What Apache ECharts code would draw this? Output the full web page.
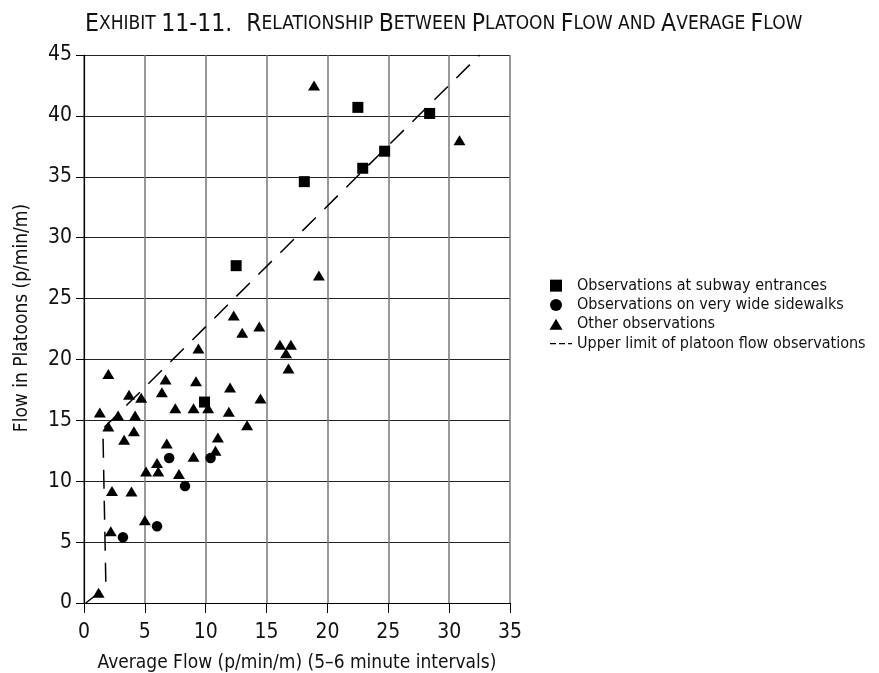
<!DOCTYPE html>
<html><head><meta charset="utf-8">
<script src="https://cdn.jsdelivr.net/npm/echarts@6/dist/echarts.min.js"></script>
<style>html,body{margin:0;padding:0;background:#fff}#c{width:879px;height:673px}</style>
</head><body><div id="c"></div>
<script>
var FONT = "'Liberation Sans Narrow', 'DejaVu Sans Condensed', 'Liberation Sans', sans-serif";
var seriesNames = ['Observations at subway entrances','Observations on very wide sidewalks','Other observations','Upper limit of platoon flow observations'];
var subway = [[9.9,16.5],[12.5,27.7],[18.1,34.6],[22.9,35.7],[24.7,37.1],[22.5,40.7],[28.4,40.2]];
var wide = [[7.0,11.9],[10.4,11.9],[8.3,9.6],[6.0,6.3],[3.2,5.4]];
var other = [[2.0,18.8],[6.7,18.35],[9.2,18.2],[12.0,17.7],[16.8,19.25],[3.7,17.1],[4.7,16.85],[6.4,17.3],[14.5,16.8],
  [1.3,15.65],[2.8,15.4],[4.2,15.4],[7.5,16.0],[9.0,16.0],[10.2,16.0],[11.9,15.7],[2.0,14.5],[3.3,13.4],[4.1,14.1],
  [13.4,14.6],[11.0,13.6],[6.8,13.1],[10.8,12.5],[6.0,11.5],[9.0,12.0],[5.1,10.8],[6.1,10.8],[7.8,10.6],[2.3,9.2],
  [3.9,9.15],[5.0,6.8],[2.2,5.9],[1.2,0.85],[18.9,42.5],[30.85,38.0],[19.3,26.9],[12.3,23.6],[13.0,22.2],[14.4,22.7],
  [9.4,20.9],[16.1,21.2],[17.0,21.2],[16.6,20.5]];
var upperLimit = [[0.15,0],[1.8,1.3],[1.55,14.3],[32.5,45]];
var xTicks = {min:0, max:35, interval:5};
var yTicks = {min:0, max:45, interval:5};

var chart = echarts.init(document.getElementById('c'), null, {renderer:'canvas'});
var big = {fontSize:24.5, fontFamily:FONT, color:'#111', fontWeight:'normal'};
var sm = {fontSize:19, fontFamily:FONT, color:'#111', fontWeight:'normal'};
var titleParts = [['b','E'],['s','XHIBIT '],['b','11-11.  R'],['s','ELATIONSHIP '],['b','B'],['s','ETWEEN '],['b','P'],['s','LATOON '],['b','F'],['s','LOW AND '],['b','A'],['s','VERAGE '],['b','F'],['s','LOW']];
var titleText = titleParts.map(function(p){return '{'+p[0]+'|'+p[1]+'}';}).join('');
var solid = {color:'#000', opacity:1};

chart.setOption({
  animation:false,
  title:{text:titleText, left:80, top:7, textStyle:{fontWeight:'normal', rich:{b:big,s:sm}}},
  grid:{left:84, right:369, top:55, bottom:70, show:false, containLabel:false, outerBoundsMode:'none'},
  legend:{
    orient:'vertical', left:542, top:271, itemWidth:25, itemHeight:12, itemGap:0,
    itemStyle:{opacity:1},
    textStyle:{fontFamily:FONT, fontSize:16, color:'#111', lineHeight:19.3},
    data:[
      {name:seriesNames[0], icon:'path://M0,0 M3,0h12v12h-12z M25,12'},
      {name:seriesNames[1], icon:'path://M0,0 M3,6a6,6 0 1,0 12,0a6,6 0 1,0 -12,0z M25,12'},
      {name:seriesNames[2], icon:'path://M0,0 M2.5,11.5L9,0.5L15.5,11.5z M25,12'},
      {name:seriesNames[3], icon:'path://M0,0 M3,5.5h6v1.2h-6z M12,5.5h6v1.2h-6z M21,5.5h4v1.2h-4z M25,12'}
    ]
  },
  xAxis:{type:'value', min:xTicks.min, max:xTicks.max, interval:xTicks.interval,
    name:'Average Flow (p/min/m) (5–6 minute intervals)', nameLocation:'middle', nameGap:51,
    nameTextStyle:{fontFamily:FONT, fontSize:19, color:'#111'},
    axisLine:{lineStyle:{color:'#000', width:1.2}},
    axisTick:{show:true, length:10, lineStyle:{color:'#000'}},
    axisLabel:{fontFamily:FONT, fontSize:21, color:'#111', margin:19},
    splitLine:{show:true, lineStyle:{color:'#777', width:1.5}}
  },
  yAxis:{type:'value', min:yTicks.min, max:yTicks.max, interval:yTicks.interval,
    name:'Flow in Platoons (p/min/m)', nameLocation:'middle', nameGap:52, nameRotate:90,
    nameTextStyle:{fontFamily:FONT, fontSize:19, color:'#111', padding:[0,0,0,22]},
    axisLine:{lineStyle:{color:'#000', width:1.2}},
    axisTick:{show:true, length:8, lineStyle:{color:'#000'}},
    axisLabel:{fontFamily:FONT, fontSize:21, color:'#111', margin:12},
    splitLine:{show:true, lineStyle:{color:'#222', width:1}}
  },
  series:[
    {name:seriesNames[0], type:'scatter', data:subway, symbol:'rect', symbolSize:11, itemStyle:solid, z:5},
    {name:seriesNames[1], type:'scatter', data:wide, symbol:'circle', symbolSize:10.5, itemStyle:solid, z:5},
    {name:seriesNames[2], type:'scatter', data:other, symbol:'triangle', symbolSize:[12,10], itemStyle:solid, z:5},
    {name:seriesNames[3], type:'line', data:upperLimit, symbol:'none', lineStyle:{color:'#000', width:1.5, type:[19,12]}, itemStyle:solid, z:4}
  ]
});
</script></body></html>
